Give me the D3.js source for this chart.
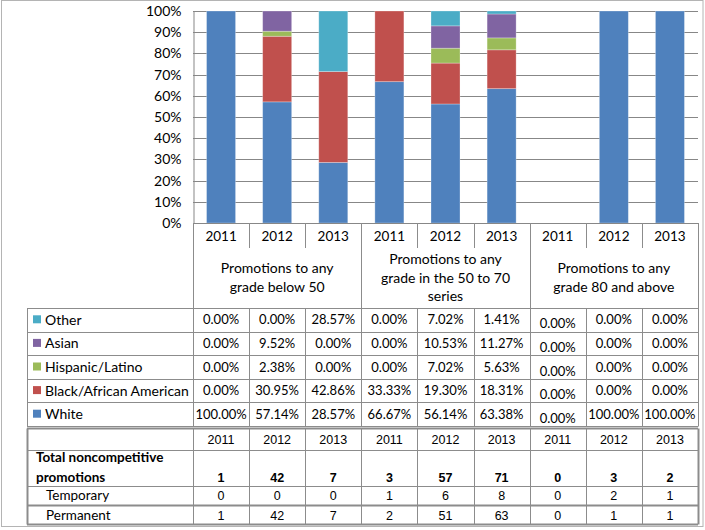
<!DOCTYPE html>
<html>
<head>
<meta charset="utf-8">
<script src="https://cdn.jsdelivr.net/npm/d3@7"></script>
<style>
  body { margin: 0; background: #fff; }
  text { font-family: Lato, "Open Sans", sans-serif; fill: #000; }
</style>
</head>
<body>
<div id="canvas"></div>
<script>
// ////////// DATA /////////////
var groupLabels = [
  ["Promotions to any", "grade below 50"],
  ["Promotions to any", "grade in the 50 to 70", "series"],
  ["Promotions to any", "grade 80 and above"]
];
var years = ["2011", "2012", "2013"];
var races = ["White", "Black/African American", "Hispanic/Latino", "Asian", "Other"];

// percentages, one per column (3 groups x 3 years)
var white    = [100, 57.14, 28.57, 66.67, 56.14, 63.38, 0, 100, 100];
var black    = [0, 30.95, 42.86, 33.33, 19.30, 18.31, 0, 0, 0];
var hispanic = [0, 2.38, 0, 0, 7.02, 5.63, 0, 0, 0];
var asian    = [0, 9.52, 0, 0, 10.53, 11.27, 0, 0, 0];
var other    = [0, 0, 28.57, 0, 7.02, 1.41, 0, 0, 0];

var totals    = [1, 42, 7, 3, 57, 71, 0, 3, 2];
var temporary = [0, 0, 0, 1, 6, 8, 0, 2, 1];
var permanent = [1, 42, 7, 2, 51, 63, 0, 1, 1];

var yTicks = [0, 10, 20, 30, 40, 50, 60, 70, 80, 90, 100];

///////// GLOBAL VARS //////////
var W = 705, H = 530;
var plotLeft = 193, plotRight = 698, plotTop = 11, plotBottom = 223;
var tableLeft = 27;
var gridColor = "#878787";
var lineColor = "#8c8c8c";

var series = [white, black, hispanic, asian, other];
var colors = ["#4F81BD", "#C0504D", "#9BBB59", "#8064A2", "#4BACC6"];
var color = d3.scaleOrdinal().domain(races).range(colors);

var cols = d3.range(9);
var col = d3.scaleBand().domain(cols).range([plotLeft, plotRight]);
var x = d3.scaleBand().domain(cols).range([plotLeft, plotRight])
  .paddingInner(0.483).paddingOuter(0.2415);
var y = d3.scaleLinear().domain([0, 100]).range([plotBottom, plotTop]);

var svg = d3.select("#canvas").append("svg")
  .attr("width", W).attr("height", H);

// outer frame
svg.append("rect")
  .attr("x", 1.5).attr("y", 0.5).attr("width", 701.5).attr("height", 526)
  .attr("fill", "#fff").attr("stroke", "#b4b4b4");

// gridlines
svg.append("g").selectAll("line").data(yTicks).join("line")
  .attr("x1", plotLeft).attr("x2", plotRight)
  .attr("y1", d => Math.round(y(d)) + 0.5).attr("y2", d => Math.round(y(d)) + 0.5)
  .attr("stroke", gridColor);

// y axis
var yAxis = svg.append("g")
  .attr("transform", `translate(${plotLeft + 0.5},0)`)
  .call(d3.axisLeft(y).tickValues(yTicks).tickFormat(d => d + "%").tickSize(0).tickPadding(12));
yAxis.selectAll("line, .domain").attr("stroke", gridColor);
yAxis.selectAll("text").style("font-family", "Lato").style("font-size", "14px").attr("fill", "#000");

// stacked bars
var stackData = cols.map(i => {
  var o = { col: i };
  races.forEach((r, k) => o[r] = series[k][i]);
  return o;
});
var stacked = d3.stack().keys(races)(stackData);

svg.append("g").selectAll("g").data(stacked).join("g")
  .attr("fill", d => color(d.key))
  .selectAll("rect").data(d => d).join("rect")
  .attr("x", d => x(d.data.col))
  .attr("width", x.bandwidth())
  .attr("y", d => y(d[1]))
  .attr("height", d => y(d[0]) - y(d[1]))
  .attr("stroke", "rgba(255,255,255,0.35)")
  .attr("stroke-width", 0.8);

// x axis: line, year labels, separators
svg.append("line")
  .attr("x1", plotLeft).attr("x2", plotRight).attr("y1", plotBottom + 0.5).attr("y2", plotBottom + 0.5)
  .attr("stroke", gridColor);

var lines = svg.append("g").attr("stroke", lineColor);

cols.forEach(i => {
  svg.append("text")
    .attr("x", col(i) + col.bandwidth() / 2)
    .attr("y", 241)
    .attr("text-anchor", "middle")
    .style("font-size", "13.5px")
    .text(years[i % 3]);
});

// column separators in the year row
d3.range(10).forEach(i => {
  var xx = Math.round(plotLeft + i * col.step()) + 0.5;
  var isGroup = i % 3 === 0;
  lines.append("line")
    .attr("x1", xx).attr("x2", xx)
    .attr("y1", plotBottom).attr("y2", isGroup ? 308 : 248);
});

// group headers
groupLabels.forEach((g, gi) => {
  var cx = col(gi * 3) + col.step() * 1.5;
  var y0 = g.length === 3 ? 264 : 273;
  g.forEach((t, li) => {
    svg.append("text")
      .attr("x", cx).attr("y", y0 + li * 18.5)
      .attr("text-anchor", "middle")
      .style("font-size", "14px")
      .text(t);
  });
});

// data table (rows top to bottom: Other ... White)
var rowTop = 308, rowH = 23.6;
var rowOrder = races.slice().reverse();

d3.range(6).forEach(r => {
  var yy = Math.round(rowTop + r * rowH) + 0.5;
  lines.append("line").attr("x1", tableLeft).attr("x2", plotRight).attr("y1", yy).attr("y2", yy);
});
var tableBottom = Math.round(rowTop + 5 * rowH) + 0.5;
[tableLeft].concat(d3.range(10).map(i => plotLeft + i * col.step())).forEach(v => {
  var xx = Math.round(v) + 0.5;
  lines.append("line").attr("x1", xx).attr("x2", xx).attr("y1", rowTop).attr("y2", tableBottom);
});

rowOrder.forEach((race, r) => {
  var cy = rowTop + r * rowH + rowH / 2;
  svg.append("rect")
    .attr("x", 33).attr("y", cy - 4.5).attr("width", 8).attr("height", 8)
    .attr("fill", color(race));
  svg.append("text")
    .attr("x", 45).attr("y", cy + 5)
    .style("font-size", "14px")
    .text(race);
  var vals = series[races.indexOf(race)];
  vals.forEach((v, i) => {
    svg.append("text")
      .attr("x", col(i) + col.bandwidth() / 2)
      .attr("y", cy + 4.5 + (i === 6 ? 4 : 0))
      .attr("text-anchor", "middle")
      .style("font-size", "13px")
      .text(v.toFixed(2) + "%");
  });
});

// bottom table
var bTop = 428.5;
var bRows = [bTop, 450.5, 486.5, 505.5, 524.5];
bRows.forEach((yy, k) => {
  svg.append("line")
    .attr("x1", tableLeft).attr("x2", plotRight).attr("y1", yy).attr("y2", yy)
    .attr("stroke", lineColor)
    .attr("stroke-width", (k === 0 || k === 3 || k === 4) ? 2 : 1);
});
[tableLeft].concat(d3.range(10).map(i => plotLeft + i * col.step())).forEach((v, k) => {
  var xx = Math.round(v) + 0.5;
  svg.append("line").attr("x1", xx).attr("x2", xx).attr("y1", bTop).attr("y2", 524.5)
    .attr("stroke", lineColor)
    .attr("stroke-width", (k === 0 || k === 10) ? 2 : 1);
});

var numFont = "'Liberation Sans', Arial, sans-serif";
cols.forEach(i => {
  var cx = col(i) + col.bandwidth() / 2;
  svg.append("text").attr("x", cx).attr("y", 444).attr("text-anchor", "middle")
    .style("font-family", numFont).style("font-size", "12.5px").text(years[i % 3]);
  svg.append("text").attr("x", cx).attr("y", 482).attr("text-anchor", "middle")
    .style("font-family", numFont).style("font-size", "12.5px").style("font-weight", "bold")
    .text(totals[i]);
  svg.append("text").attr("x", cx).attr("y", 500).attr("text-anchor", "middle")
    .style("font-family", numFont).style("font-size", "12.5px").text(temporary[i]);
  svg.append("text").attr("x", cx).attr("y", 520).attr("text-anchor", "middle")
    .style("font-family", numFont).style("font-size", "12.5px").text(permanent[i]);
});

svg.append("text").attr("x", 36).attr("y", 462)
  .style("font-size", "13.5px").style("font-weight", "bold").text("Total noncompetitive");
svg.append("text").attr("x", 36).attr("y", 482)
  .style("font-size", "13.5px").style("font-weight", "bold").text("promotions");
svg.append("text").attr("x", 46).attr("y", 500)
  .style("font-size", "13.5px").text("Temporary");
svg.append("text").attr("x", 46).attr("y", 520)
  .style("font-size", "13.5px").text("Permanent");
</script>
</body>
</html>
